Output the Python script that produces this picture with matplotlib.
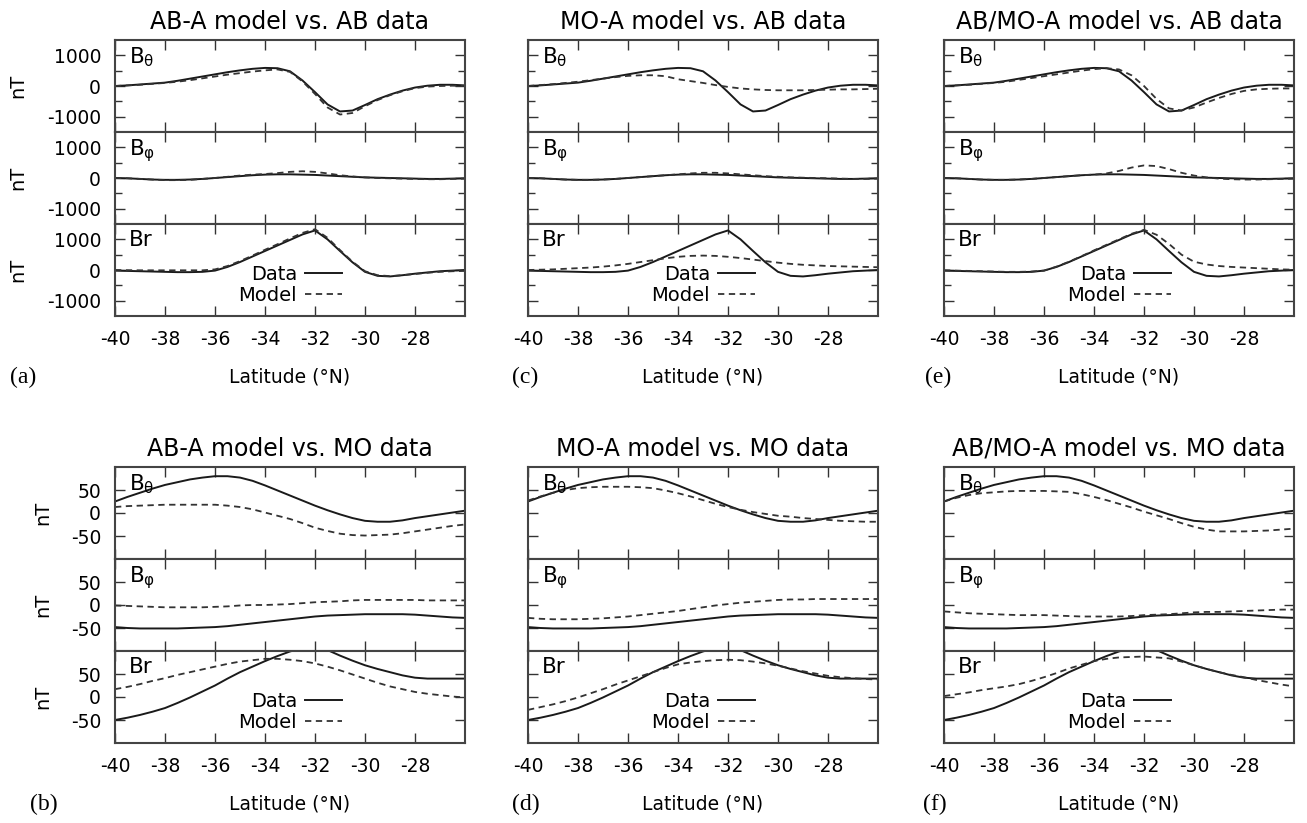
import numpy as np
import matplotlib.pyplot as plt
from matplotlib.ticker import FixedLocator

plt.rcParams['font.family'] = 'DejaVu Sans'
plt.rcParams['mathtext.fontset'] = 'dejavusans'
plt.rcParams['axes.unicode_minus'] = False

# latitude grid (deg N)
lat = np.arange(-40, -25.9, 0.5)

# ---- AB data (top row, nT) ----
ab_theta = [0, 20, 50, 80, 110, 170, 240, 310, 380, 450, 510, 560, 590, 580, 480,
            180, -200, -600, -830, -800, -620, -430, -280, -150, -50, 10, 40, 40, 20]
ab_phi = [0, -10, -30, -50, -60, -60, -50, -30, 0, 30, 60, 90, 110, 120, 120,
          110, 100, 80, 60, 40, 20, 10, 0, -10, -20, -30, -30, -20, -10]
ab_r = [-20, -30, -40, -50, -60, -70, -70, -60, -20, 100, 260, 440, 620, 800, 980,
        1160, 1290, 1000, 620, 250, -60, -190, -210, -170, -120, -80, -40, -20, 0]

# models against AB data
aba_ab_theta = [0, 20, 40, 70, 100, 140, 190, 250, 310, 370, 420, 470, 510, 540, 460,
                150, -260, -700, -930, -880, -660, -460, -300, -170, -70, -20, 0, 10, 0]
aba_ab_phi = [0, -10, -30, -50, -70, -70, -60, -30, 0, 40, 80, 110, 130, 160, 200,
              220, 200, 150, 90, 50, 20, 0, -10, -20, -30, -40, -40, -30, -20]
aba_ab_r = [0, -5, -10, -10, -10, -10, -10, -10, 20, 130, 290, 470, 660, 840, 1030,
            1210, 1330, 1050, 650, 270, -40, -170, -200, -170, -130, -90, -60, -40, -30]

moa_ab_theta = [0, 30, 60, 100, 140, 190, 240, 290, 330, 350, 350, 320, 220, 160, 100,
                30, -30, -80, -110, -130, -140, -140, -140, -130, -120, -110, -110, -100, -90]
moa_ab_phi = [0, -10, -30, -50, -60, -60, -50, -30, 0, 30, 60, 90, 120, 150, 170,
              170, 150, 120, 90, 60, 40, 20, 10, 0, -10, -20, -30, -30, -20]
moa_ab_r = [0, 10, 20, 40, 60, 80, 110, 150, 200, 260, 320, 380, 430, 460, 470,
            460, 430, 390, 340, 290, 240, 200, 170, 150, 130, 120, 110, 100, 90]

abmoa_ab_theta = [0, 20, 40, 70, 100, 140, 200, 260, 320, 380, 440, 500, 550, 580, 540,
                  350, 0, -420, -730, -800, -700, -540, -390, -260, -160, -110, -90, -80, -80]
abmoa_ab_phi = [0, -10, -30, -50, -60, -60, -50, -30, 0, 30, 60, 90, 110, 150, 230,
                340, 410, 390, 290, 170, 80, 20, -20, -40, -50, -50, -40, -30, -20]
abmoa_ab_r = [-10, -20, -30, -40, -50, -60, -60, -50, -20, 110, 270, 450, 640, 820, 1000,
              1180, 1310, 1150, 850, 500, 270, 180, 130, 100, 80, 60, 40, 20, 10]

# ---- MO data (bottom row, nT) ----
mo_theta = [25, 35, 44, 53, 61, 67, 73, 77, 80, 80, 77, 70, 60, 49, 38,
            27, 16, 6, -3, -11, -17, -19, -19, -16, -11, -7, -3, 1, 5]
mo_phi = [-48, -50, -51, -51, -51, -51, -50, -49, -48, -46, -43, -40, -37, -34, -31,
          -28, -25, -23, -22, -21, -20, -20, -20, -20, -21, -23, -25, -27, -28]
mo_r = [-50, -45, -39, -32, -24, -13, -1, 12, 25, 40, 54, 66, 78, 89, 99,
        106, 110, 102, 90, 79, 69, 61, 54, 47, 42, 40, 40, 40, 40]

aba_mo_theta = [13, 15, 16, 17, 18, 18, 18, 18, 18, 16, 13, 8, 1, -6, -13,
                -22, -32, -39, -45, -48, -49, -48, -47, -44, -40, -36, -32, -28, -25]
aba_mo_phi = [-1, -2, -3, -4, -5, -5, -5, -5, -4, -3, -1, 0, 0, 1, 2,
              4, 6, 7, 8, 10, 11, 11, 11, 11, 11, 10, 10, 10, 10]
aba_mo_r = [17, 22, 28, 35, 41, 48, 54, 60, 66, 72, 77, 80, 83, 83, 81,
            78, 73, 66, 58, 49, 40, 31, 23, 17, 11, 7, 4, 1, -1]

moa_mo_theta = [27, 36, 44, 50, 54, 56, 57, 57, 57, 56, 54, 49, 43, 36, 28,
                20, 13, 7, 2, -2, -6, -8, -11, -13, -15, -17, -18, -19, -19]
moa_mo_phi = [-28, -30, -31, -31, -31, -30, -29, -27, -25, -22, -19, -16, -13, -9, -5,
              -1, 2, 5, 7, 9, 11, 12, 12, 13, 13, 13, 13, 13, 13]
moa_mo_r = [-28, -22, -16, -9, -1, 8, 17, 27, 36, 45, 54, 63, 71, 75, 78,
            80, 81, 80, 77, 73, 68, 62, 56, 51, 46, 43, 41, 39, 38]

abmoa_mo_theta = [25, 33, 39, 43, 45, 47, 48, 48, 48, 47, 46, 41, 35, 28, 20,
                  12, 3, -5, -13, -22, -30, -36, -40, -40, -40, -39, -38, -36, -34]
abmoa_mo_phi = [-14, -16, -18, -19, -20, -21, -22, -22, -22, -23, -24, -25, -25, -25, -25,
                -24, -22, -21, -20, -18, -16, -15, -15, -14, -13, -12, -11, -10, -10]
abmoa_mo_r = [2, 6, 10, 15, 19, 23, 28, 35, 43, 52, 62, 70, 78, 83, 86,
              87, 88, 86, 84, 77, 69, 61, 54, 48, 43, 37, 32, 27, 23]

comp_names = [r'$\mathregular{B_θ}$', r'$\mathregular{B_φ}$', 'Br']
lat_ticks = [-40, -38, -36, -34, -32, -30, -28]

W, H = 1307, 823
fig = plt.figure(figsize=(W / 100, H / 100), dpi=100)


def rect(left, top, w, h):
    return [left / W, 1 - (top + h) / H, w / W, h / H]


def panel(left, top, data, model, title, letter, letter_x, ylim, major, minor, ylab_x):
    h = 92
    for i in range(3):
        ax = fig.add_axes(rect(left, top + i * h, 350, h))
        ax.plot(lat, data[i], color='#1a1a1a', lw=1.4)
        ax.plot(lat, model[i], color='#333333', lw=1.3, dashes=(3.5, 2.5))
        ax.set_xlim(-40, -26)
        ax.set_ylim(-ylim, ylim)
        ax.xaxis.set_major_locator(FixedLocator(lat_ticks))
        ax.yaxis.set_major_locator(FixedLocator(major))
        if minor:
            ax.yaxis.set_minor_locator(FixedLocator(minor))
        ax.tick_params(which='both', direction='in', top=True, right=True,
                       width=1, color='#333333', labelsize=13.5, pad=10)
        ax.tick_params(which='major', length=7)
        ax.tick_params(which='minor', length=5)
        for s in ax.spines.values():
            s.set_linewidth(1.5)
            s.set_color('#444444')
        if i < 2:
            ax.tick_params(labelbottom=False)
        if ylab_x is None:
            ax.tick_params(labelleft=False)
        else:
            fig.text(ylab_x / W, 1 - (top + i * h + h / 2) / H, 'nT', fontsize=14,
                     rotation=90, ha='center', va='center')
        ax.text(0.04, 0.94, comp_names[i], transform=ax.transAxes,
                fontsize=15.5, va='top', ha='left')
        if i == 0:
            ax.set_title(title, fontsize=17, pad=8)
        if i == 2:
            ax.legend(['Data', 'Model'], loc='center', bbox_to_anchor=(0.50, 0.34),
                      frameon=False, markerfirst=False, fontsize=14,
                      handlelength=1.9, handletextpad=0.4, labelspacing=0.1)
    bottom = top + 3 * h
    fig.text((left + 175) / W, 1 - (bottom + 61) / H, 'Latitude (°N)',
             fontsize=13.5, ha='center', va='center')
    fig.text(letter_x / W, 1 - (bottom + 61) / H, letter,
             fontsize=17, ha='left', va='center', family='Liberation Serif')


ab_row = [
    ([aba_ab_theta, aba_ab_phi, aba_ab_r], 'AB-A model vs. AB data', '(a)', 10),
    ([moa_ab_theta, moa_ab_phi, moa_ab_r], 'MO-A model vs. AB data', '(c)', 512),
    ([abmoa_ab_theta, abmoa_ab_phi, abmoa_ab_r], 'AB/MO-A model vs. AB data', '(e)', 925),
]
mo_row = [
    ([aba_mo_theta, aba_mo_phi, aba_mo_r], 'AB-A model vs. MO data', '(b)', 30),
    ([moa_mo_theta, moa_mo_phi, moa_mo_r], 'MO-A model vs. MO data', '(d)', 512),
    ([abmoa_mo_theta, abmoa_mo_phi, abmoa_mo_r], 'AB/MO-A model vs. MO data', '(f)', 923),
]
lefts = [115, 528, 944]

for j, (model, title, letter, lx) in enumerate(ab_row):
    panel(lefts[j], 40, [ab_theta, ab_phi, ab_r], model, title, letter, lx,
          1500, [-1000, 0, 1000], [-500, 500], 18 if j == 0 else None)

for j, (model, title, letter, lx) in enumerate(mo_row):
    panel(lefts[j], 467, [mo_theta, mo_phi, mo_r], model, title, letter, lx,
          100, [-50, 0, 50], None, 43 if j == 0 else None)

fig.savefig('out.png', dpi=100)
